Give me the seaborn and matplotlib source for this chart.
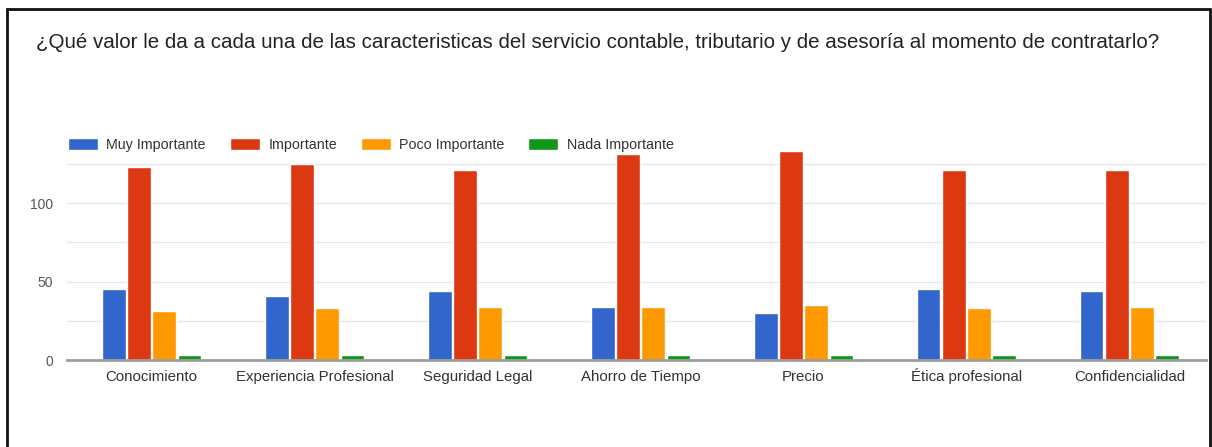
import matplotlib
matplotlib.use("Agg")
import matplotlib.pyplot as plt
from matplotlib.patches import Rectangle
from matplotlib.ticker import FixedLocator
import pandas as pd
import seaborn as sns

# Survey answers per service characteristic
categorias = ["Conocimiento", "Experiencia Profesional", "Seguridad Legal",
              "Ahorro de Tiempo", "Precio", "Ética profesional", "Confidencialidad"]
niveles = ["Muy Importante", "Importante", "Poco Importante", "Nada Importante"]
muy_importante = [45, 41, 44, 34, 30, 45, 44]
importante = [123, 125, 121, 131, 133, 121, 121]
poco_importante = [31, 33, 34, 34, 35, 33, 34]
nada_importante = [3, 3, 3, 3, 3, 3, 3]
colores = ["#3366cc", "#dc3912", "#ff9900", "#109618"]

titulo = ("¿Qué valor le da a cada una de las caracteristicas del servicio contable, "
          "tributario y de asesoría al momento de contratarlo?")

series = [muy_importante, importante, poco_importante, nada_importante]
df = pd.DataFrame({
    "Característica": [c for _ in niveles for c in categorias],
    "Nivel": [n for n in niveles for _ in categorias],
    "Respuestas": [v for s in series for v in s],
})

sns.set_theme(style="white")
plt.rcParams["font.family"] = ["Liberation Sans", "DejaVu Sans"]

W, H = 1212, 447
fig = plt.figure(figsize=(W / 100, H / 100), dpi=100)
ax = fig.add_axes([67 / W, 1 - 360 / H, (1206 - 67) / W, (360 - 145) / H])

sns.barplot(data=df, x="Característica", y="Respuestas", hue="Nivel",
            hue_order=niveles, palette=colores, width=0.62, gap=0.06,
            saturation=1, ax=ax, legend=True)

ax.set_xlim(-0.52, 6.47)
ax.set_ylim(0, 137)
ax.yaxis.set_major_locator(FixedLocator([0, 50, 100]))
ax.yaxis.set_minor_locator(FixedLocator([25, 75, 125]))
ax.grid(axis="y", which="both", color="#e6e6e6", linewidth=1)
ax.set_axisbelow(True)
for side in ["top", "right", "left"]:
    ax.spines[side].set_visible(False)
ax.spines["bottom"].set_color("#9e9e9e")
ax.spines["bottom"].set_linewidth(2)
ax.set_xlabel("")
ax.set_ylabel("")
ax.tick_params(axis="x", length=0, pad=15, labelsize=10.8, labelcolor="#333333")
for lbl in ax.get_xticklabels():
    lbl.set_verticalalignment("baseline")
ax.tick_params(axis="y", which="both", length=0, pad=10, labelsize=10,
               labelcolor="#555555")

handles, labels = ax.get_legend_handles_labels()
ax.get_legend().remove()
fig.legend(handles, labels, loc="center left", bbox_to_anchor=(55 / W, 1 - 145 / H),
           ncol=4, frameon=False, fontsize=10.3, handlelength=2.1, handleheight=0.9,
           handletextpad=0.6, columnspacing=1.65, labelcolor="#333333")

fig.text(36 / W, 1 - 43 / H, titulo, fontsize=14.8, color="#222222",
         ha="left", va="center")

# outer frame
fig.patches.append(Rectangle((7 / W, -0.05), (1210 - 7) / W, 1.05 - 9 / H,
                             transform=fig.transFigure, fill=False,
                             edgecolor="#111111", linewidth=2))

fig.savefig("out.png", dpi=100, facecolor="white")
